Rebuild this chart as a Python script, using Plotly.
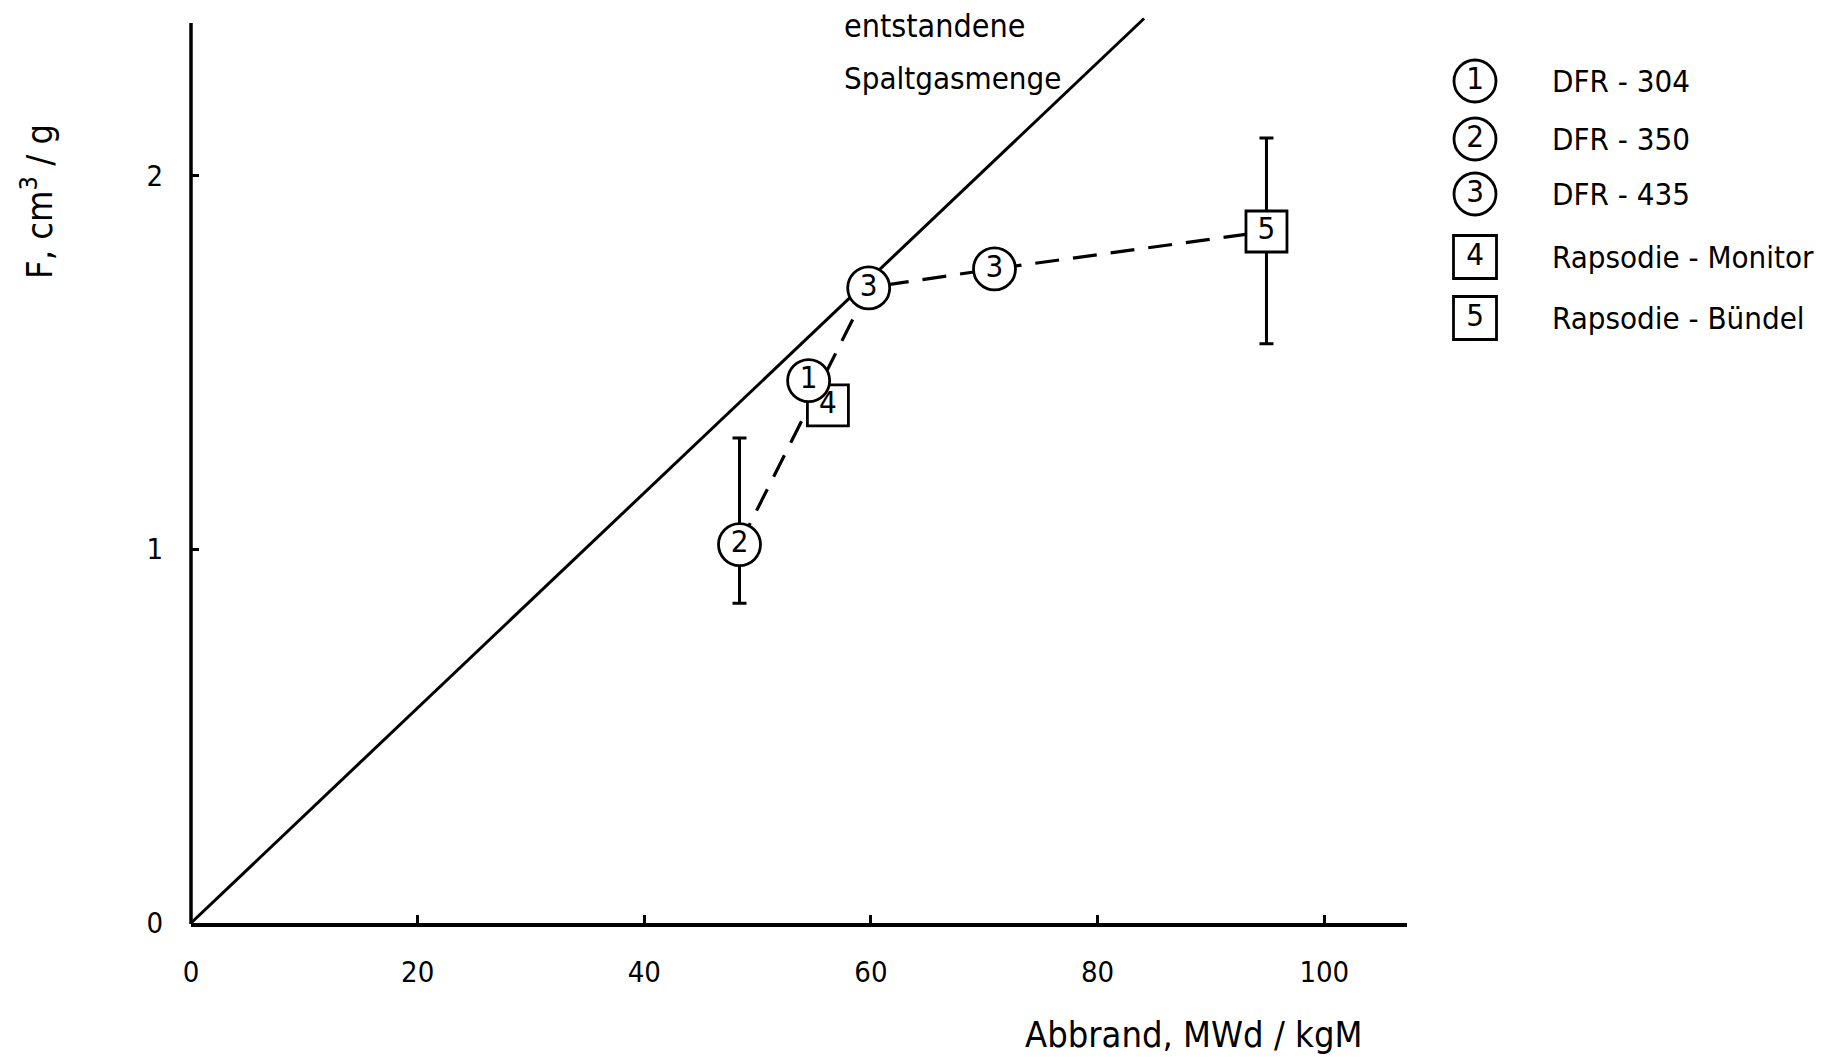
import plotly.graph_objects as go

# ---- data ----
theory_x = [0, 84.1]
theory_y = [0, 2.42]

path_x = [48.4, 59.8, 70.9, 94.9]
path_y = [1.0125, 1.70, 1.75, 1.85]

circ_x = [54.5, 48.4, 59.8, 70.9]
circ_y = [1.451, 1.0125, 1.699, 1.75]
circ_lbl = ["1", "2", "3", "3"]

sq_x = [56.2, 94.9]
sq_y = [1.385, 1.85]
sq_lbl = ["4", "5"]

err_x = [48.4, 94.9]
err_y = [1.0125, 1.85]
err_plus = [0.285, 0.25]
err_minus = [0.157, 0.30]

legend_lbl = ["DFR - 304", "DFR - 350", "DFR - 435", "Rapsodie - Monitor", "Rapsodie - Bündel"]
legend_sym = ["1", "2", "3", "4", "5"]
legend_shape = ["circle", "circle", "circle", "square", "square"]

xticks = [0, 20, 40, 60, 80, 100]
yticks = [0, 1, 2]

FONT = "DejaVu Sans Condensed, Liberation Sans Narrow, DejaVu Sans, sans-serif"
W, H = 1839, 1057

# layout geometry (pixels)
PX_L, PX_R = 191, 1407       # x=0 .. x=107.3
PX_B, PX_T = 923, 11         # y=0 .. y=2.44
YAXIS_TOP = 23
LEG_X0 = 1416
LEG_SYM_PX = 1475
LEG_TXT_PX = 1550
LEG_ROW_PX = [81, 139, 194, 257, 318]

fig = go.Figure()

fig.add_trace(go.Scatter(x=theory_x, y=theory_y, mode="lines",
                         line=dict(color="black", width=3), hoverinfo="skip"))
fig.add_trace(go.Scatter(x=path_x, y=path_y, mode="lines",
                         line=dict(color="black", width=3.2, dash="24px,14px"), hoverinfo="skip"))
fig.add_trace(go.Scatter(x=err_x, y=err_y, mode="markers",
                         marker=dict(size=1, opacity=0),
                         error_y=dict(type="data", array=err_plus, arrayminus=err_minus,
                                      color="black", thickness=3, width=7),
                         hoverinfo="skip"))
fig.add_trace(go.Scatter(x=sq_x, y=sq_y, mode="markers+text", text=sq_lbl,
                         textposition="middle center",
                         textfont=dict(family=FONT, size=31, color="black"),
                         marker=dict(symbol="square", size=41, color="white",
                                     line=dict(color="black", width=2.8)),
                         cliponaxis=False, hoverinfo="skip"))
fig.add_trace(go.Scatter(x=circ_x, y=circ_y, mode="markers+text", text=circ_lbl,
                         textposition="middle center",
                         textfont=dict(family=FONT, size=31, color="black"),
                         marker=dict(symbol="circle", size=42, color="white",
                                     line=dict(color="black", width=2.8)),
                         cliponaxis=False, hoverinfo="skip"))

# legend symbols on a pixel-based helper subplot
for shp in ["circle", "square"]:
    idx = [i for i, s in enumerate(legend_shape) if s == shp]
    fig.add_trace(go.Scatter(x=[LEG_SYM_PX] * len(idx), y=[LEG_ROW_PX[i] for i in idx],
                             xaxis="x2", yaxis="y2",
                             mode="markers+text", text=[legend_sym[i] for i in idx],
                             textposition="middle center",
                             textfont=dict(family=FONT, size=31, color="black"),
                             marker=dict(symbol=shp, size=42 if shp == "circle" else 43,
                                         color="white", line=dict(color="black", width=2.8)),
                             cliponaxis=False, hoverinfo="skip"))

annotations = []
for lbl, yy in zip(legend_lbl, LEG_ROW_PX):
    annotations.append(dict(x=LEG_TXT_PX, y=yy, xref="x2", yref="y2", text=lbl,
                            showarrow=False, xanchor="left", yanchor="middle",
                            font=dict(family=FONT, size=31, color="black")))

annotations += [
    dict(x=842 / W, y=1 - 26 / H, xref="paper", yref="paper", text="entstandene",
         showarrow=False, xanchor="left", yanchor="middle",
         font=dict(family=FONT, size=32, color="black")),
    dict(x=842 / W, y=1 - 78 / H, xref="paper", yref="paper", text="Spaltgasmenge",
         showarrow=False, xanchor="left", yanchor="middle",
         font=dict(family=FONT, size=31, color="black")),
    dict(x=37 / W, y=1 - 202 / H, xref="paper", yref="paper", text="F, cm<sup>3</sup> / g",
         showarrow=False, xanchor="center", yanchor="middle", textangle=-90,
         font=dict(family=FONT, size=36, color="black")),
    dict(x=1364 / W, y=1 - 1034 / H, xref="paper", yref="paper", text="Abbrand, MWd / kgM",
         showarrow=False, xanchor="right", yanchor="middle",
         font=dict(family=FONT, size=36, color="black")),
]

fig.update_layout(
    width=W, height=H,
    margin=dict(l=0, r=0, t=0, b=0),
    paper_bgcolor="white", plot_bgcolor="rgba(0,0,0,0)",
    showlegend=False,
    annotations=annotations,
    shapes=[dict(type="line", xref="paper", yref="paper",
                 x0=PX_L / W, x1=PX_L / W, y0=1 - (PX_B + 1) / H, y1=1 - YAXIS_TOP / H,
                 line=dict(color="black", width=3.5), layer="above")],
    xaxis=dict(domain=[PX_L / W, PX_R / W], range=[0, 107.3], tickvals=xticks,
               ticks="inside", ticklen=8, tickwidth=2.5,
               tickcolor="black", showline=True, linecolor="black", linewidth=3.5,
               showgrid=False, zeroline=False, ticklabelstandoff=20, automargin=False,
               tickfont=dict(family=FONT, size=29, color="black")),
    yaxis=dict(domain=[1 - PX_B / H, 1 - PX_T / H], range=[0, 2.44], tickvals=yticks,
               ticks="inside", ticklen=8, tickwidth=2.5,
               tickcolor="black", showline=False, showgrid=False, zeroline=False,
               ticklabelstandoff=27, automargin=False,
               tickfont=dict(family=FONT, size=29, color="black")),
    xaxis2=dict(domain=[LEG_X0 / W, 1], range=[LEG_X0, W], anchor="y2",
                visible=False, fixedrange=True),
    yaxis2=dict(domain=[0, 1], range=[H, 0], anchor="x2",
                visible=False, fixedrange=True),
)

fig.write_html("out.html")
